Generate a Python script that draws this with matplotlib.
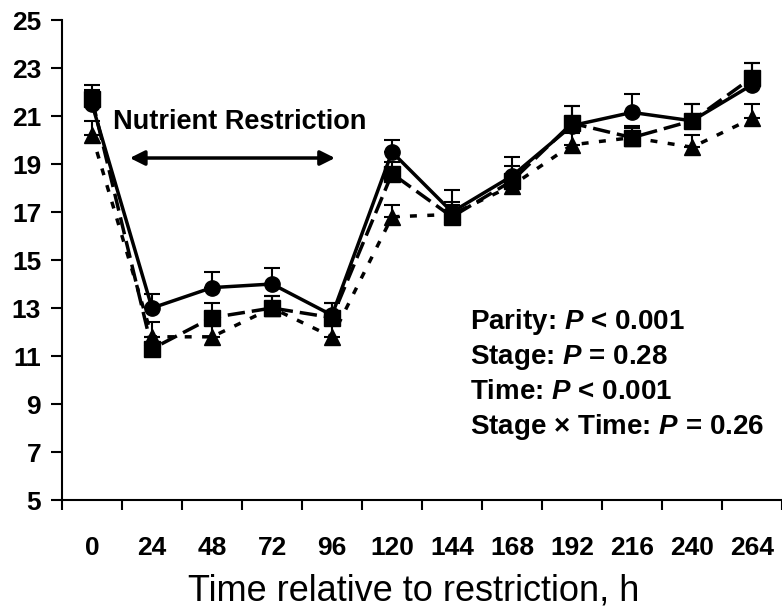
import matplotlib
matplotlib.use('Agg')
import matplotlib.pyplot as plt
import numpy as np

plt.rcParams['font.family'] = 'Liberation Sans'
plt.rcParams['mathtext.fontset'] = 'custom'
plt.rcParams['mathtext.it'] = 'Liberation Sans:bold:italic'
plt.rcParams['mathtext.rm'] = 'Liberation Sans:bold'

hours = ['0', '24', '48', '72', '96', '120', '144', '168', '192', '216', '240', '264']

# three groups, mean and upper SE
circ = [21.5, 13.0, 13.85, 14.0, 12.7, 19.5, 17.0, 18.5, 20.6, 21.15, 20.8, 22.3]
circ_se = [0.6, 0.6, 0.65, 0.65, 0.5, 0.5, 0.9, 0.8, 0.8, 0.75, 0.7, 0.9]
sq = [21.7, 11.3, 12.6, 13.0, 12.6, 18.6, 16.8, 18.3, 20.7, 20.1, 20.8, 22.6]
sq_se = [0.6, 0.5, 0.6, 0.5, 0.6, 0.5, 0.6, 0.6, 0.7, 0.5, 0.7, 0.6]
tri = [20.2, 11.8, 11.8, 13.0, 11.8, 16.8, 16.9, 18.1, 19.8, 20.1, 19.7, 20.9]
tri_se = [0.6, 0.6, 0.5, 0.5, 0.5, 0.5, 0.4, 0.5, 0.5, 0.4, 0.5, 0.6]

stats = [r'Parity: $P$ < 0.001', r'Stage: $P$ = 0.28',
         r'Time: $P$ < 0.001', r'Stage × Time: $P$ = 0.26']

fig = plt.figure(figsize=(7.82, 6.10), dpi=100)
ax = fig.add_axes([0.0793, 0.1803, 0.9207, 0.7869])

x = np.arange(len(hours))
lw = 2.5

ax.errorbar(x, circ, yerr=[np.zeros(len(x)), circ_se], color='black', lw=lw,
            marker='o', ms=11, capsize=6, elinewidth=1.5, capthick=1.5, zorder=3)
ax.errorbar(x, tri, yerr=[np.zeros(len(x)), tri_se], color='black', lw=lw,
            marker='^', ms=12, capsize=6, elinewidth=1.5, capthick=1.5,
            dashes=(2, 3), zorder=4)
ax.errorbar(x, sq, yerr=[np.zeros(len(x)), sq_se], color='black', lw=lw,
            marker='s', ms=11, capsize=6, elinewidth=1.5, capthick=1.5,
            dashes=(5, 2), zorder=5)

ax.set_xlim(-0.5, len(hours) - 0.5)
ax.set_ylim(5, 25)
ax.set_yticks(np.arange(5, 26, 2))
ax.set_xticks(np.arange(-0.5, len(hours), 1))
ax.set_xticklabels([])
ax.set_xticks(x, minor=True)
ax.set_xticklabels(hours, minor=True)
ax.tick_params(axis='x', which='major', length=7, width=1.5, direction='out')
ax.tick_params(axis='x', which='minor', length=0, pad=26, labelsize=19)
ax.tick_params(axis='y', length=8, width=1.5, labelsize=19, pad=7)
for lab in ax.get_xticklabels(minor=True) + ax.get_yticklabels():
    lab.set_fontweight('bold')

ax.spines['top'].set_visible(False)
ax.spines['right'].set_visible(False)
ax.spines['left'].set_linewidth(1.5)
ax.spines['bottom'].set_linewidth(1.5)

ax.text(0.35, 20.75, 'Nutrient Restriction', fontsize=19.5, fontweight='bold',
        ha='left', va='center')
ax.annotate('', xy=(4.05, 19.25), xytext=(0.63, 19.25),
            arrowprops=dict(arrowstyle='<|-|>', lw=2.5, color='black',
                            mutation_scale=22, shrinkA=0, shrinkB=0))

for i, s in enumerate(stats):
    ax.text(6.3, 12.4 - 1.45 * i, s, fontsize=20, fontweight='bold',
            ha='left', va='center')

fig.text(0.529, 1 - 591 / 610, 'Time relative to restriction, h', fontsize=26,
         ha='center', va='center')

fig.savefig('out.png', dpi=100)
